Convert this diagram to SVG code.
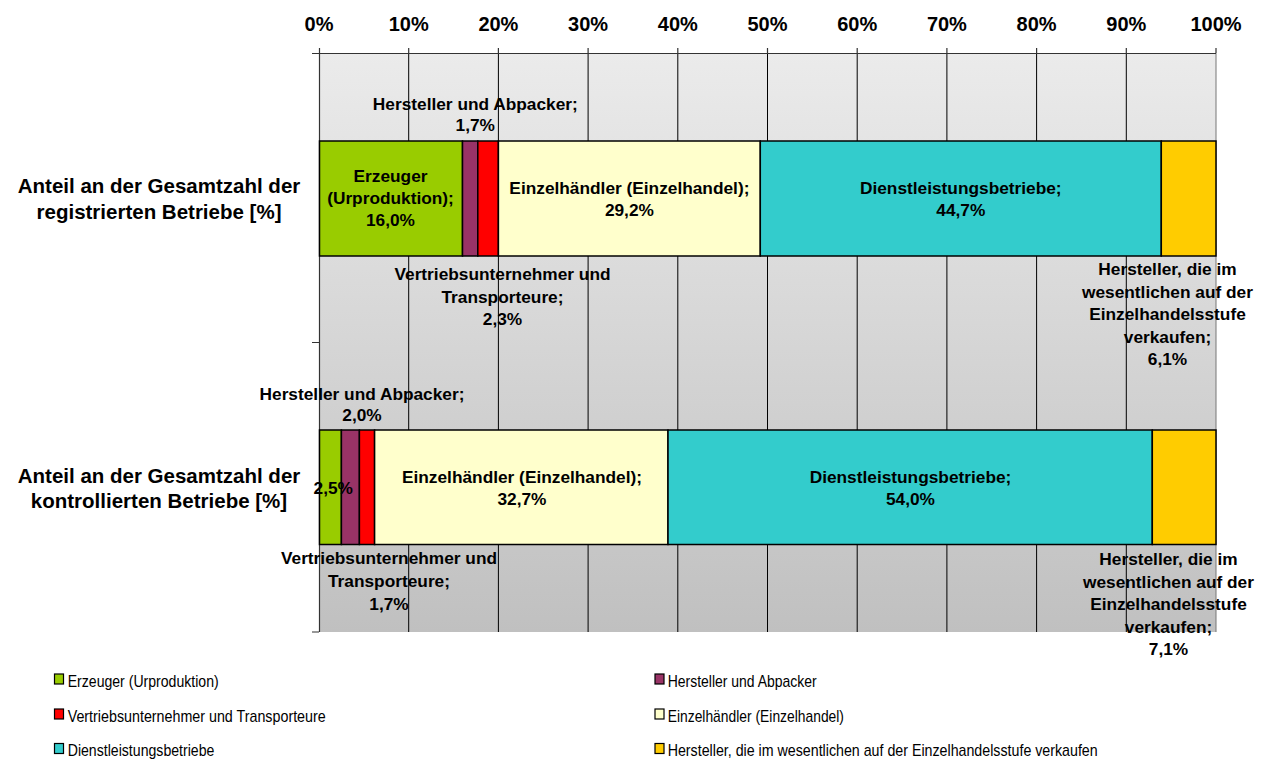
<svg xmlns="http://www.w3.org/2000/svg" width="1268" height="760" viewBox="0 0 1268 760">
<defs>
<linearGradient id="bg" x1="0" y1="0" x2="0" y2="1">
<stop offset="0" stop-color="#EBEBEB"/>
<stop offset="1" stop-color="#C0C0C0"/>
</linearGradient>
<style>
.ax{font-family:"Liberation Sans",Arial,sans-serif;font-weight:bold;font-size:20px;fill:#000;text-anchor:middle}
.cat{font-family:"Liberation Sans",Arial,sans-serif;font-weight:bold;font-size:20.5px;fill:#000;text-anchor:middle}
.dl{font-family:"Liberation Sans",Arial,sans-serif;font-weight:bold;font-size:17.3px;fill:#000;text-anchor:middle}
.lg{font-family:"Liberation Sans Narrow","Arial Narrow","Liberation Sans",Arial,sans-serif;font-size:17px;fill:#000}
.grid{stroke:#000;stroke-width:1;fill:none}
.axis{stroke:#333;stroke-width:1.2;fill:none}
.seg{stroke:#000;stroke-width:1.5}
.lsq{stroke:#000;stroke-width:1.2}
.g{fill:#99CC00}.p{fill:#993366}.r{fill:#FF0000}.y{fill:#FFFFCC}.t{fill:#33CCCC}.o{fill:#FFCC00}
</style>
</defs>
<rect width="1268" height="760" fill="#FFFFFF"/>
<g id="plot-area">
<rect x="319" y="53" width="897" height="579" fill="url(#bg)"/>
</g>
<g id="gridlines" class="grid">
<path d="M408.7 53V632M498.4 53V632M588.1 53V632M677.8 53V632M767.5 53V632M857.2 53V632M946.9 53V632M1036.6 53V632M1126.3 53V632"/>
<path d="M1216 53V632" stroke="#777"/>
</g>
<g id="axes" class="axis">
<path d="M312 53.5H1216M319.5 53V632"/>
<path d="M312 342.5H319M312 632H319"/>
<path d="M319.5 48V53M408.7 48V53M498.4 48V53M588.1 48V53M677.8 48V53M767.5 48V53M857.2 48V53M946.9 48V53M1036.6 48V53M1126.3 48V53M1216 48V53"/>
</g>
<g id="x-axis-labels">
<text class="ax" x="319" y="31">0%</text>
<text class="ax" x="408.7" y="31">10%</text>
<text class="ax" x="498.4" y="31">20%</text>
<text class="ax" x="588.1" y="31">30%</text>
<text class="ax" x="677.8" y="31">40%</text>
<text class="ax" x="767.5" y="31">50%</text>
<text class="ax" x="857.2" y="31">60%</text>
<text class="ax" x="946.9" y="31">70%</text>
<text class="ax" x="1036.6" y="31">80%</text>
<text class="ax" x="1126.3" y="31">90%</text>
<text class="ax" x="1216" y="31">100%</text>
</g>
<g id="category-labels">
<text class="cat" x="159" y="193">Anteil an der Gesamtzahl der</text>
<text class="cat" x="159" y="218.5">registrierten Betriebe [%]</text>
<text class="cat" x="159" y="482.5">Anteil an der Gesamtzahl der</text>
<text class="cat" x="159" y="508">kontrollierten Betriebe [%]</text>
</g>
<g id="bar-registriert">
<rect class="seg g" x="319.5" y="141" width="143" height="115"/>
<rect class="seg p" x="462.5" y="141" width="15.3" height="115"/>
<rect class="seg r" x="477.8" y="141" width="20.6" height="115"/>
<rect class="seg y" x="498.4" y="141" width="261.9" height="115"/>
<rect class="seg t" x="760.3" y="141" width="401" height="115"/>
<rect class="seg o" x="1161.3" y="141" width="54.7" height="115"/>
</g>
<g id="bar-kontrolliert">
<rect class="seg g" x="319.5" y="430" width="21.9" height="114.5"/>
<rect class="seg p" x="341.4" y="430" width="18" height="114.5"/>
<rect class="seg r" x="359.4" y="430" width="15.2" height="114.5"/>
<rect class="seg y" x="374.6" y="430" width="293.4" height="114.5"/>
<rect class="seg t" x="668" y="430" width="484.3" height="114.5"/>
<rect class="seg o" x="1152.3" y="430" width="63.7" height="114.5"/>
</g>
<g id="labels-registriert">
<text class="dl" x="475.3" y="110">Hersteller und Abpacker;</text>
<text class="dl" x="475.3" y="131">1,7%</text>
<text class="dl" x="390.5" y="182">Erzeuger</text>
<text class="dl" x="390.5" y="204">(Urproduktion);</text>
<text class="dl" x="390.5" y="226">16,0%</text>
<text class="dl" x="629.4" y="194">Einzelhändler (Einzelhandel);</text>
<text class="dl" x="629.4" y="216">29,2%</text>
<text class="dl" x="960.8" y="194">Dienstleistungsbetriebe;</text>
<text class="dl" x="960.8" y="216">44,7%</text>
<text class="dl" x="502.5" y="280">Vertriebsunternehmer und</text>
<text class="dl" x="502.5" y="302.5">Transporteure;</text>
<text class="dl" x="502.5" y="325">2,3%</text>
<text class="dl" x="1167.5" y="275">Hersteller, die im</text>
<text class="dl" x="1167.5" y="297.5">wesentlichen auf der</text>
<text class="dl" x="1167.5" y="320">Einzelhandelsstufe</text>
<text class="dl" x="1167.5" y="342.5">verkaufen;</text>
<text class="dl" x="1167.5" y="365">6,1%</text>
</g>
<g id="labels-kontrolliert">
<text class="dl" x="362" y="399.5">Hersteller und Abpacker;</text>
<text class="dl" x="362" y="421">2,0%</text>
<text class="dl" x="333.3" y="494">2,5%</text>
<text class="dl" x="522" y="483">Einzelhändler (Einzelhandel);</text>
<text class="dl" x="522" y="505">32,7%</text>
<text class="dl" x="910.5" y="482.5">Dienstleistungsbetriebe;</text>
<text class="dl" x="910.5" y="504.5">54,0%</text>
<text class="dl" x="389" y="564">Vertriebsunternehmer und</text>
<text class="dl" x="389" y="586.5">Transporteure;</text>
<text class="dl" x="389" y="609.5">1,7%</text>
<text class="dl" x="1168.5" y="565">Hersteller, die im</text>
<text class="dl" x="1168.5" y="587.5">wesentlichen auf der</text>
<text class="dl" x="1168.5" y="610">Einzelhandelsstufe</text>
<text class="dl" x="1168.5" y="632.5">verkaufen;</text>
<text class="dl" x="1168.5" y="655">7,1%</text>
</g>
<g id="legend">
<rect class="lsq g" x="54.5" y="674" width="9" height="10"/>
<text class="lg" x="67.7" y="686.5" textLength="151" lengthAdjust="spacingAndGlyphs">Erzeuger (Urproduktion)</text>
<rect class="lsq r" x="54.5" y="709" width="9" height="10"/>
<text class="lg" x="67.7" y="721.5" textLength="258" lengthAdjust="spacingAndGlyphs">Vertriebsunternehmer und Transporteure</text>
<rect class="lsq t" x="54.5" y="743.5" width="9" height="10"/>
<text class="lg" x="67.7" y="756" textLength="146.7" lengthAdjust="spacingAndGlyphs">Dienstleistungsbetriebe</text>
<rect class="lsq p" x="655" y="674" width="9" height="10"/>
<text class="lg" x="667.7" y="686.5" textLength="149" lengthAdjust="spacingAndGlyphs">Hersteller und Abpacker</text>
<rect class="lsq y" x="655" y="709" width="9" height="10"/>
<text class="lg" x="667.7" y="721.5" textLength="176.3" lengthAdjust="spacingAndGlyphs">Einzelhändler (Einzelhandel)</text>
<rect class="lsq o" x="655" y="743.5" width="9" height="10"/>
<text class="lg" x="667.7" y="756" textLength="430" lengthAdjust="spacingAndGlyphs">Hersteller, die im wesentlichen auf der Einzelhandelsstufe verkaufen</text>
</g>
</svg>
